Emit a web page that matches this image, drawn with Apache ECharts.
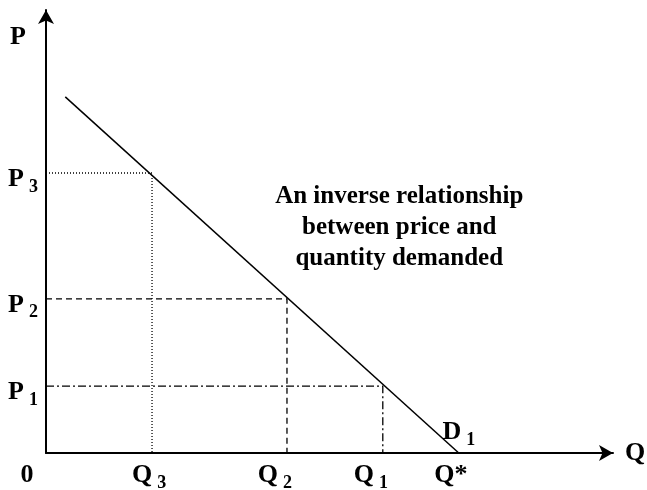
<!doctype html>
<html lang="en">
<head>
    <meta charset="UTF-8">
    <script src="https://cdn.jsdelivr.net/npm/echarts@6/dist/echarts.min.js"></script>
    <title>Demand curve</title>
    <style>
        html, body { margin: 0; padding: 0; background: #fff; }
    </style>
</head>
<body>
<div id="demand" style="width: 647px;height:490px;"></div>
</body>
<script>
    // demand line (x = quantity, y = price, both 0..100)
    var demandLine = [[3.4, 80.4], [72.8, 0]];
    // the three price / quantity pairs on the curve
    var quantities = [18.7, 42.5, 59.4];
    var prices = [63.2, 34.8, 15.1];
    var qSubs = ['3', '2', '1'];
    var pSubs = ['3', '2', '1'];
    var qStar = 72.8;
    var note = [62.3, 50.8];
    var noteText = 'An inverse relationship\nbetween price and\nquantity demanded';

    // styling (not data)
    var dashTypes = [[1, 2], [6, 4], [8, 3, 2, 3]];
    var qLabelStyle = ['s1', 's2', 's2'];
    var font = 'Liberation Serif';
    var rich = {
        b: { fontFamily: font, fontWeight: 'bold', fontSize: 26, color: '#000', lineHeight: 34 },
        s: { fontFamily: font, fontWeight: 'bold', fontSize: 18, color: '#000', lineHeight: 16,
             verticalAlign: 'bottom', padding: [0, 0, 0, 5] },
        s1: { fontFamily: font, fontWeight: 'bold', fontSize: 18, color: '#000', lineHeight: 16,
              verticalAlign: 'bottom', padding: [0, 6, 0, 5] },
        s2: { fontFamily: font, fontWeight: 'bold', fontSize: 18, color: '#000', lineHeight: 16,
              verticalAlign: 'bottom', padding: [0, 24, 0, 5] },
        bs: { fontFamily: font, fontWeight: 'bold', fontSize: 26, color: '#000', lineHeight: 34, padding: [0, 16, 0, 0] },
        z: { fontFamily: font, fontWeight: 'bold', fontSize: 26, color: '#000', lineHeight: 34, padding: [0, 38, 0, 0] }
    };

    var myChart = echarts.init(document.getElementById('demand'));

    var series = [{
        type: 'line',
        data: [demandLine[0], {
            value: demandLine[1],
            label: { show: true, position: 'top', distance: 6, offset: [0, 2], formatter: '{b|D}{s|1}', rich: rich }
        }],
        symbol: 'circle',
        symbolSize: 0,
        showSymbol: true,
        lineStyle: { color: '#000', width: 1.5 },
        itemStyle: { color: '#000', opacity: 1 },
        silent: true,
        z: 5
    }];
    for (var i = 0; i < quantities.length; i++) {
        series.push({
            type: 'line',
            data: [[0, prices[i]], [quantities[i], prices[i]], [quantities[i], 0]],
            symbol: 'none',
            lineStyle: { color: '#000', width: 1.3, type: dashTypes[i] },
            silent: true
        });
    }
    series.push({
        type: 'scatter',
        data: [note],
        symbolSize: 0,
        itemStyle: { opacity: 1, color: '#000' },
        label: {
            show: true,
            position: 'inside',
            formatter: noteText,
            fontFamily: font,
            fontWeight: 'bold',
            fontSize: 25,
            lineHeight: 31,
            color: '#000',
            opacity: 1,
            textBorderWidth: 0,
            align: 'center'
        },
        silent: true
    });

    var xLabels = {};
    xLabels[0] = '{z|0}';
    quantities.forEach(function (q, k) { xLabels[q] = '{b|Q}{' + qLabelStyle[k] + '|' + qSubs[k] + '}'; });
    xLabels[qStar] = '{bs|Q*}';
    var yLabels = {};
    prices.forEach(function (p, k) { yLabels[p] = '{b|P}{s|' + pSubs[k] + '}'; });

    var option = {
        animation: false,
        backgroundColor: '#fff',
        grid: { left: 46, right: 34, top: 10, bottom: 37, containLabel: false, outerBoundsMode: 'none' },
        xAxis: {
            type: 'value',
            min: 0,
            max: 100,
            name: 'Q',
            nameGap: 12,
            nameTextStyle: { fontFamily: font, fontWeight: 'bold', fontSize: 26, color: '#000' },
            axisLine: { show: true, symbol: ['none', 'arrow'], symbolSize: [12, 14], lineStyle: { color: '#000', width: 2 } },
            axisTick: { show: false },
            splitLine: { show: false },
            axisLabel: {
                customValues: [0].concat(quantities, [qStar]),
                margin: 5,
                formatter: function (v) { return xLabels[v] || ''; },
                rich: rich
            }
        },
        yAxis: {
            type: 'value',
            min: 0,
            max: 100,
            name: 'P',
            nameGap: -14,
            nameTextStyle: { fontFamily: font, fontWeight: 'bold', fontSize: 26, color: '#000',
                             align: 'right', verticalAlign: 'top', padding: [0, 20, 0, 0] },
            axisLine: { show: true, symbol: ['none', 'arrow'], symbolSize: [12, 14], lineStyle: { color: '#000', width: 2 } },
            axisTick: { show: false },
            splitLine: { show: false },
            axisLabel: {
                customValues: prices,
                margin: 8,
                padding: [12, 0, 0, 0],
                formatter: function (v) { return yLabels[v] || ''; },
                rich: rich
            }
        },
        series: series
    };

    myChart.setOption(option);
</script>
</html>
